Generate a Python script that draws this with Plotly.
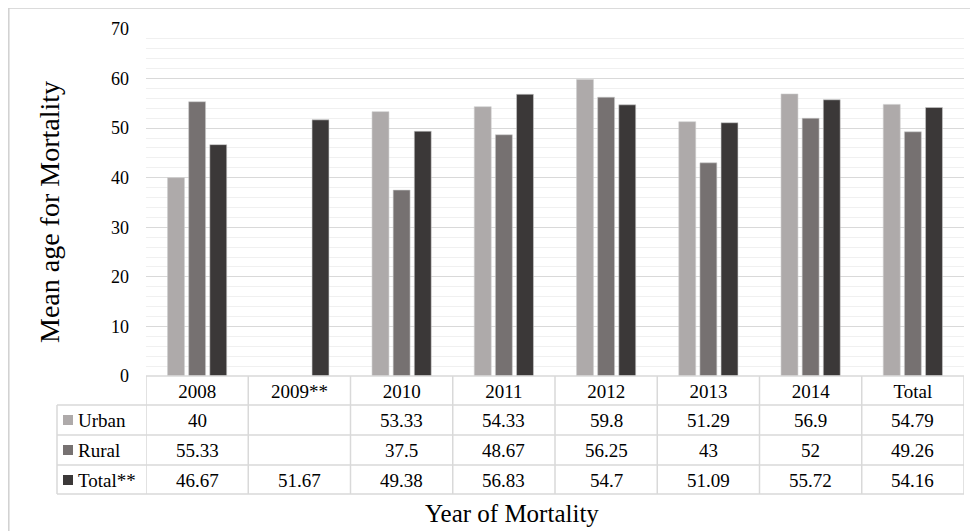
import plotly.graph_objects as go

categories = ["2008", "2009**", "2010", "2011", "2012", "2013", "2014", "Total"]
urban = [40, None, 53.33, 54.33, 59.8, 51.29, 56.9, 54.79]
rural = [55.33, None, 37.5, 48.67, 56.25, 43, 52, 49.26]
total = [46.67, 51.67, 49.38, 56.83, 54.7, 51.09, 55.72, 54.16]
series_names = ["Urban", "Rural", "Total**"]
series_values = [urban, rural, total]
colors = ["#AEAAAA", "#767171", "#3B3838"]

# page body has an 8px margin, so the figure is offset by 8px
OFF = 8
W, H = 978 - OFF, 531 - OFF
L, R, T, B = 146, 964, 29, 376  # plot area in reference-page pixels
FONT = "Liberation Serif, Times New Roman, serif"


def px(x):
    return (x - L) / (R - L)


def py(y):
    return (B - y) / (B - T)


fig = go.Figure()
for name, vals, col in zip(series_names, series_values, colors):
    fig.add_trace(go.Bar(
        x=list(range(len(categories))), y=vals, name=name,
        marker=dict(color=col, line=dict(color="rgba(205,205,205,0.7)", width=0.8)),
        showlegend=False,
    ))

shapes = []
line_col = "#D9D9D9"
row_edges = [376, 405, 435, 465, 494]
shapes.append(dict(type="line", xref="paper", yref="paper", x0=px(146), x1=px(964),
                   y0=py(376), y1=py(376), line=dict(color=line_col, width=1.5)))
for ye in row_edges[1:]:
    shapes.append(dict(type="line", xref="paper", yref="paper", x0=px(57), x1=px(964),
                       y0=py(ye), y1=py(ye), line=dict(color=line_col, width=1.5)))
shapes.append(dict(type="line", xref="paper", yref="paper", x0=px(57), x1=px(57),
                   y0=py(405), y1=py(494), line=dict(color=line_col, width=1.5)))
for i in range(len(categories) + 1):
    shapes.append(dict(type="line", xref="x", yref="paper", x0=i - 0.5, x1=i - 0.5,
                       y0=py(376), y1=py(494), line=dict(color=line_col, width=1.5)))
# outer chart border
shapes.append(dict(type="rect", xref="paper", yref="paper", x0=px(8.8), x1=px(990),
                   y0=py(8.0), y1=py(545), line=dict(color="#D0D0D0", width=1.5)))

annotations = []
row_centers = [420, 450, 480]
for r, (name, vals, col) in enumerate(zip(series_names, series_values, colors)):
    yc = row_centers[r]
    shapes.append(dict(type="rect", xref="paper", yref="paper", x0=px(63), x1=px(73),
                       y0=py(yc - 5), y1=py(yc + 5), fillcolor=col, line=dict(width=0)))
    annotations.append(dict(xref="paper", yref="paper", x=px(76), y=py(yc), text=name,
                            showarrow=False, xanchor="left", yanchor="middle",
                            font=dict(family=FONT, size=19, color="#000")))
    for i, v in enumerate(vals):
        if v is None:
            continue
        annotations.append(dict(xref="x", yref="paper", x=i, y=py(yc), text=f"{v:g}",
                                showarrow=False, xanchor="center", yanchor="middle",
                                font=dict(family=FONT, size=19, color="#000")))

annotations.append(dict(xref="paper", yref="paper", x=px(512), y=py(514), text="Year of Mortality",
                        showarrow=False, xanchor="center", yanchor="middle",
                        font=dict(family=FONT, size=25, color="#000")))
annotations.append(dict(xref="paper", yref="paper", x=px(50), y=py(212), text="Mean age for Mortality",
                        showarrow=False, xanchor="center", yanchor="middle", textangle=-90,
                        font=dict(family=FONT, size=28, color="#000")))

fig.update_layout(
    width=W, height=H,
    margin=dict(l=L - OFF, r=978 - R, t=T - OFF, b=531 - B, pad=0),
    paper_bgcolor="white", plot_bgcolor="white",
    barmode="group", bargap=0.38, bargroupgap=0.2,
    shapes=shapes, annotations=annotations,
    xaxis=dict(range=[-0.5, len(categories) - 0.5], tickmode="array",
               tickvals=list(range(len(categories))), ticktext=categories,
               showgrid=False, zeroline=False, showline=False, ticks="",
               tickfont=dict(family=FONT, size=19, color="#000"), ticklabelstandoff=2),
    yaxis=dict(range=[0, 70], dtick=10, tick0=0, showgrid=True, gridcolor="#D9D9D9", gridwidth=1.2,
               minor=dict(dtick=2, showgrid=True, gridcolor="#F0F0F0", gridwidth=1.2),
               zeroline=False, showline=False, ticks="",
               tickfont=dict(family=FONT, size=18, color="#000"), ticklabelstandoff=16),
)

fig.write_html("out.html")
